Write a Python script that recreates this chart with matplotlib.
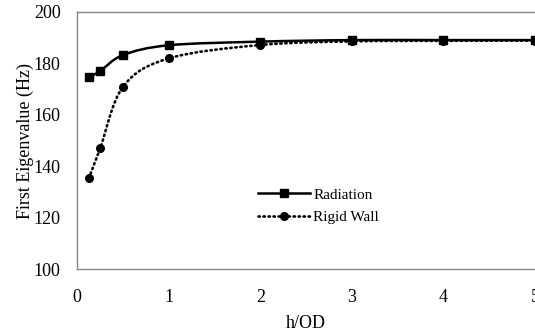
import numpy as np
import matplotlib
matplotlib.use("Agg")
from matplotlib import pyplot as plt
from matplotlib.path import Path
from matplotlib.patches import PathPatch

h_od = [0.125, 0.25, 0.5, 1, 2, 3, 4, 5]
radiation = [174.5, 177.0, 183.2, 187.0, 188.4, 189.0, 189.0, 189.0]
rigid_wall = [135.3, 147.0, 170.9, 181.9, 187.1, 188.5, 188.7, 188.8]
series_labels = ['Radiation', 'Rigid Wall']

plt.rcParams['font.family'] = ['Liberation Serif', 'DejaVu Serif']


def smooth_path(xs, ys):
    # Excel-style smoothed line: cubic bezier segments between the points
    pts = np.column_stack([xs, ys]).astype(float)
    n = len(pts)
    verts = [pts[0]]
    codes = [Path.MOVETO]
    for i in range(n - 1):
        p0 = pts[i - 1] if i > 0 else pts[i]
        p1 = pts[i]
        p2 = pts[i + 1]
        p3 = pts[i + 2] if i + 2 < n else pts[i + 1]
        c1 = p1 + (p2 - p0) / 6.0
        c2 = p2 - (p3 - p1) / 6.0
        verts += [c1, c2, p2]
        codes += [Path.CURVE4] * 3
    return Path(verts, codes)


dotted = (0, (0.5, 1.4))

fig = plt.figure(figsize=(5.35, 3.36), dpi=100)
ax = fig.add_axes([0.1445, 0.1985, 0.8555, 0.7665])

ax.add_patch(PathPatch(smooth_path(h_od, radiation), fill=False,
                       edgecolor='black', lw=1.8))
ax.add_patch(PathPatch(smooth_path(h_od, rigid_wall), fill=False,
                       edgecolor='black', lw=1.9, linestyle=dotted,
                       capstyle='round'))
ax.plot(h_od, radiation, linestyle='none', marker='s', ms=5.2, color='black')
ax.plot(h_od, rigid_wall, linestyle='none', marker='o', ms=5.5, color='black')

# legend proxies
ax.plot([], [], color='black', lw=1.8, marker='s', ms=5.2, label=series_labels[0])
ax.plot([], [], color='black', lw=1.9, linestyle=dotted,
        dash_capstyle='round', marker='o', ms=5.5, label=series_labels[1])

ax.set_xlim(0, 5)
ax.set_ylim(100, 200)
ax.set_xticks([0, 1, 2, 3, 4, 5])
ax.set_yticks([100, 120, 140, 160, 180, 200])
ax.tick_params(length=0, labelsize=13)
ax.tick_params(axis='x', pad=14)
ax.tick_params(axis='y', pad=12)
for side in ['left', 'bottom', 'top']:
    ax.spines[side].set_color('#868686')
    ax.spines[side].set_linewidth(1.0)
ax.spines['right'].set_visible(False)

ax.set_xlabel('h/OD', fontsize=13, labelpad=7)
ax.set_ylabel('First Eigenvalue (Hz)', fontsize=13, labelpad=0)

ax.legend(loc='center left', bbox_to_anchor=(0.365, 0.245), frameon=False,
          fontsize=11, handlelength=3.4, handletextpad=0.2, labelspacing=0.6)

plt.savefig('out.png', dpi=100)
